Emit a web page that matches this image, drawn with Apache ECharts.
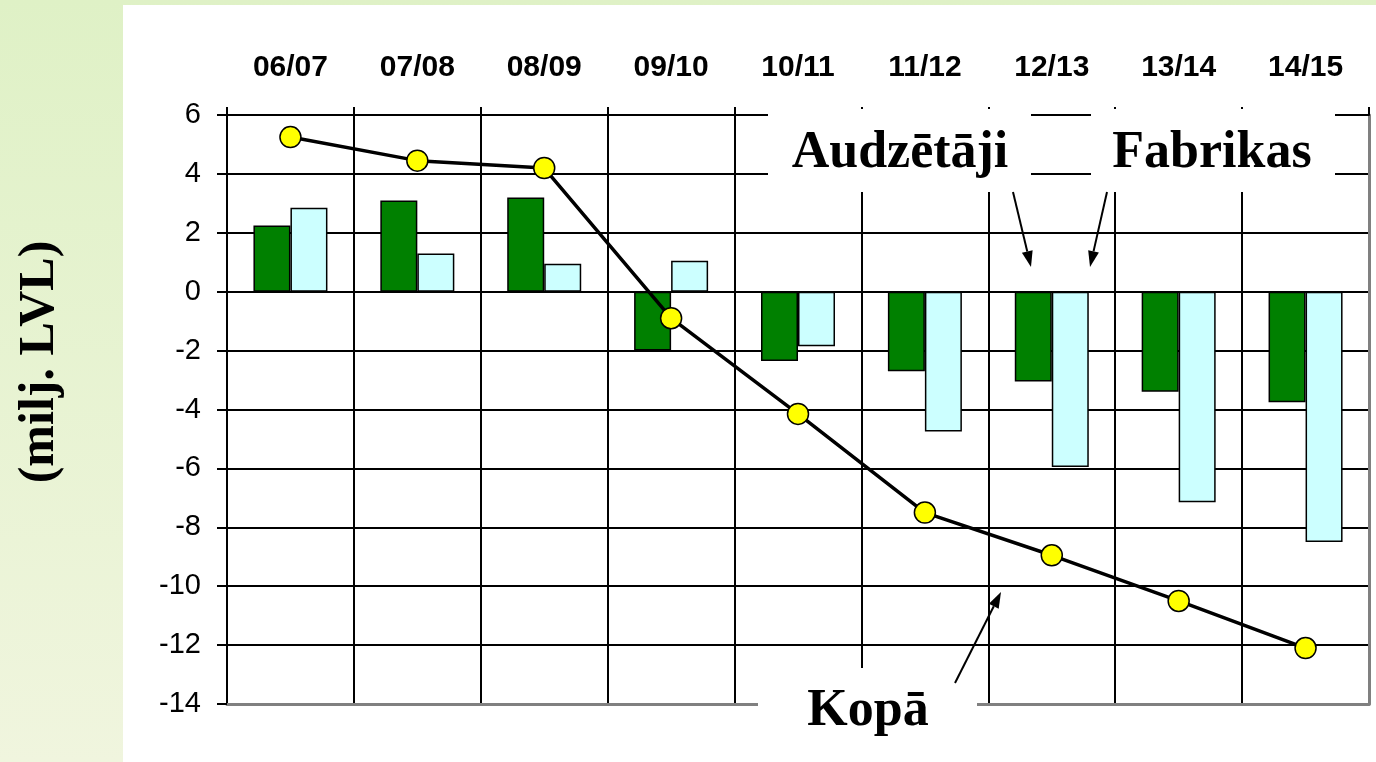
<!DOCTYPE html>
<html>
<head>
<meta charset="utf-8">
<title>Audzētāji / Fabrikas / Kopā</title>
<script src="https://cdn.jsdelivr.net/npm/echarts@6/dist/echarts.min.js"></script>
<style>
  html, body { margin: 0; padding: 0; }
  body {
    width: 1376px; height: 762px; overflow: hidden; position: relative;
    background: linear-gradient(#dff1c6, #f0f5de);
  }
  .sheet { position: absolute; left: 123px; top: 5px; right: 0; bottom: 0; background: #fff; }
  #chartBar { position: absolute; left: 0; top: 0; width: 1376px; height: 762px; }
</style>
</head>
<body>
<div class="sheet"></div>
<div id="chartBar"></div>
<script>
// sezonas (x ass)
var categories = ['06/07', '07/08', '08/09', '09/10', '10/11', '11/12', '12/13', '13/14', '14/15'];
// audzētāji, milj. LVL
var growers = [2.25, 3.1, 3.2, -2.0, -2.35, -2.7, -3.05, -3.4, -3.75];
// fabrikas, milj. LVL
var factories = [2.85, 1.3, 0.95, 1.05, -1.85, -4.75, -5.95, -7.15, -8.5];
// kopā, milj. LVL
var total = [5.25, 4.45, 4.2, -0.9, -4.15, -7.5, -8.95, -10.5, -12.1];
// y ass
var yMin = -14, yMax = 6, yStep = 2;

var serif = '"Liberation Serif", "Times New Roman", serif';
var sans = '"Liberation Sans", Arial, sans-serif';

// bulta ar pildītu galu
function arrow(x1, y1, x2, y2) {
  var ang = Math.atan2(y2 - y1, x2 - x1);
  var len = 16, half = 5.5;
  var bx = x2 - len * Math.cos(ang), by = y2 - len * Math.sin(ang);
  var px = -Math.sin(ang) * half, py = Math.cos(ang) * half;
  return [
    { type: 'line', z: 110, shape: { x1: x1, y1: y1, x2: bx, y2: by }, style: { stroke: '#000', lineWidth: 2 } },
    { type: 'polygon', z: 110, shape: { points: [[x2, y2], [bx + px, by + py], [bx - px, by - py]] }, style: { fill: '#000' } }
  ];
}

var chartBar = echarts.init(document.getElementById('chartBar'));

var graphics = [
  // balti laukumi zem uzrakstiem
  { type: 'rect', z: 100, shape: { x: 768, y: 109, width: 263, height: 83 }, style: { fill: '#fff' } },
  { type: 'rect', z: 100, shape: { x: 1091, y: 109, width: 244, height: 83 }, style: { fill: '#fff' } },
  { type: 'rect', z: 100, shape: { x: 758, y: 668, width: 219, height: 94 }, style: { fill: '#fff' } },
  { type: 'text', z: 110, x: 900, y: 154, style: { text: 'Audzētāji', font: 'bold 52px ' + serif, fill: '#000', align: 'center', verticalAlign: 'middle' } },
  { type: 'text', z: 110, x: 1212, y: 154, style: { text: 'Fabrikas', font: 'bold 52px ' + serif, fill: '#000', align: 'center', verticalAlign: 'middle' } },
  { type: 'text', z: 110, x: 868, y: 712, style: { text: 'Kopā', font: 'bold 52px ' + serif, fill: '#000', align: 'center', verticalAlign: 'middle' } },
  // y ass nosaukums
  { type: 'text', z: 110, x: 40, y: 362, rotation: Math.PI / 2, style: { text: '(milj. LVL)', font: 'bold 50px ' + serif, fill: '#000', align: 'center', verticalAlign: 'middle' } }
]
  .concat(arrow(1013, 192, 1031, 267))
  .concat(arrow(1107, 192, 1090, 267))
  .concat(arrow(955, 683, 1001, 592));

var option = {
  animation: false,
  backgroundColor: 'transparent',
  grid: { left: 227, right: 7, top: 115, bottom: 58 },
  xAxis: [
    {
      type: 'category',
      position: 'top',
      data: categories,
      axisLine: { show: true, onZero: false, lineStyle: { color: '#000', width: 2 } },
      axisTick: { show: true, inside: false, length: 8, interval: 0, lineStyle: { color: '#000', width: 2 } },
      axisLabel: { interval: 0, margin: 32, color: '#000', fontFamily: sans, fontWeight: 'bold', fontSize: 30 },
      splitLine: { show: true, interval: 0, lineStyle: { color: '#000', width: 2 } }
    },
    {
      // apakšējā pelēkā mala
      type: 'category',
      position: 'bottom',
      data: categories,
      axisLine: { show: true, onZero: false, lineStyle: { color: '#808080', width: 3 } },
      axisTick: { show: false },
      axisLabel: { show: false },
      splitLine: { show: false }
    }
  ],
  yAxis: [
    {
      type: 'value',
      min: yMin,
      max: yMax,
      interval: yStep,
      axisLine: { show: true, lineStyle: { color: '#000', width: 2 } },
      axisTick: { show: true, length: 10, lineStyle: { color: '#000', width: 2 } },
      axisLabel: { margin: 26, color: '#000', fontFamily: sans, fontSize: 29 },
      splitLine: { show: true, lineStyle: { color: '#000', width: 2 } }
    },
    {
      // labā pelēkā mala
      type: 'value',
      position: 'right',
      min: yMin,
      max: yMax,
      interval: yStep,
      axisLine: { show: true, lineStyle: { color: '#808080', width: 3 } },
      axisTick: { show: false },
      axisLabel: { show: false },
      splitLine: { show: false }
    }
  ],
  series: [
    {
      name: 'Audzētāji',
      type: 'bar',
      data: growers,
      barWidth: 37,
      barGap: '0%',
      itemStyle: { color: '#008000', borderColor: '#000', borderWidth: 1.5 }
    },
    {
      name: 'Fabrikas',
      type: 'bar',
      data: factories,
      barWidth: 37,
      barGap: '0%',
      itemStyle: { color: '#ccffff', borderColor: '#000', borderWidth: 1.5 }
    },
    {
      name: 'Kopā',
      type: 'line',
      data: total,
      z: 5,
      symbol: 'circle',
      symbolSize: 21,
      lineStyle: { color: '#000', width: 3.5 },
      itemStyle: { color: '#ffff00', borderColor: '#000', borderWidth: 1.5 }
    }
  ],
  graphic: graphics
};

chartBar.setOption(option);
</script>
</body>
</html>
